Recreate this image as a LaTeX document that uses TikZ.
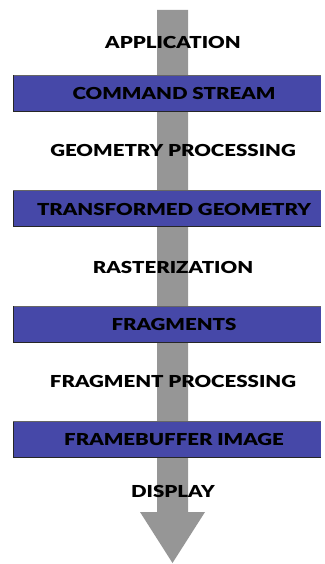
\documentclass[tikz,border=0pt]{standalone}
\usepackage{fontspec}
\setmainfont{Lato}[BoldFont={Lato Black}, BoldFeatures={FakeStretch=1.24}]
\definecolor{barblue}{RGB}{70,72,168}
\definecolor{shaftgray}{RGB}{150,150,150}
\begin{document}
\begin{tikzpicture}[x=1pt,y=-1pt,
  lbl/.style={font=\bfseries\fontsize{16.5}{16.5}\selectfont, inner sep=0pt, anchor=center},
  barfill/.style={fill=barblue},
  baredge/.style={draw=black!85, line width=0.8pt},
  bartop/.style={draw=black!60, line width=0.8pt}]
\useasboundingbox (0,0) rectangle (324,564);
\fill[shaftgray] (157,10) -- (188,10) -- (188,512) -- (205,512) -- (172.5,563) -- (140,512) -- (157,512) -- cycle;
\foreach \y in {75,190.5,306,421.5}{
  \fill[barfill] (13,\y) rectangle (321,\y+36);
  \draw[bartop] (13,\y) -- (321,\y);
  \draw[baredge] (321,\y+36) -- (13,\y+36) -- (13,\y);
}
\node[lbl] (app) at (173,42) {APPLICATION};
\node[lbl] (cs) at (174,93) {COMMAND STREAM};
\node[lbl] (gp) at (173,150.5) {GEOMETRY PROCESSING};
\node[lbl] (tg) at (174,209) {TRANSFORMED GEOMETRY};
\node[lbl] (ras) at (173,267) {RASTERIZATION};
\node[lbl] (fr) at (174,324.5) {FRAGMENTS};
\node[lbl] (fp) at (173,381.5) {FRAGMENT PROCESSING};
\node[lbl] (fb) at (174,439.5) {FRAMEBUFFER IMAGE};
\node[lbl] (disp) at (173,491) {DISPLAY};
\end{tikzpicture}
\end{document}
